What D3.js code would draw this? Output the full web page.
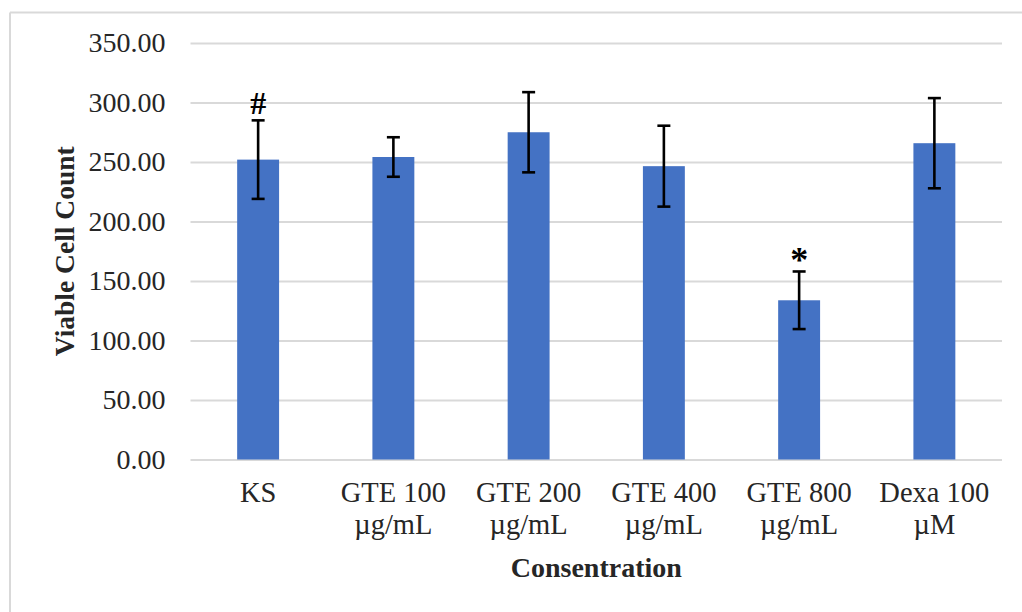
<!DOCTYPE html>
<html>
<head>
<meta charset="utf-8">
<script src="https://cdn.jsdelivr.net/npm/d3@7"></script>
<style>
  html, body { margin: 0; padding: 0; background: #fff; }
  svg { display: block; }
  text { font-family: "Liberation Serif", "DejaVu Serif", serif; fill: #262626; }
</style>
</head>
<body>
<svg id="chart" width="1022" height="612"></svg>
<script>
// Viable cell count per treatment group (mean ± error)
const categories = [
  ["KS"],
  ["GTE 100", "µg/mL"],
  ["GTE 200", "µg/mL"],
  ["GTE 400", "µg/mL"],
  ["GTE 800", "µg/mL"],
  ["Dexa 100", "µM"]
];
const means  = [252.0, 254.2, 275.0, 246.5, 133.8, 265.8];
const errors = [33.0, 16.6, 33.7, 34.0, 24.2, 37.9];
const marks  = ["#", "", "", "", "*", ""];
const yTicks = [0, 50, 100, 150, 200, 250, 300, 350];

const svg = d3.select("#chart");
const W = 1022, H = 612;
const plot = { left: 190.5, right: 1002, top: 43, bottom: 459.5 };

const keys = categories.map((c, i) => i);
const x = d3.scaleBand()
  .domain(keys)
  .range([plot.left, plot.right])
  .paddingInner(0.69)
  .paddingOuter(0.345);

const y = d3.scaleLinear()
  .domain([0, 350])
  .range([plot.bottom, plot.top]);

// Frame lines (top and left)
svg.append("line")
  .attr("x1", 10).attr("x2", W).attr("y1", 12.5).attr("y2", 12.5)
  .attr("stroke", "#d9d9d9").attr("stroke-width", 2);
svg.append("line")
  .attr("x1", 10).attr("x2", 10).attr("y1", 12.5).attr("y2", H)
  .attr("stroke", "#d9d9d9").attr("stroke-width", 2);

// Horizontal gridlines and y tick labels
const yAxis = d3.axisLeft(y)
  .tickValues(yTicks)
  .tickSize(-(plot.right - plot.left))
  .tickPadding(25)
  .tickFormat(d3.format(".2f"));

const gy = svg.append("g")
  .attr("transform", `translate(${plot.left},0)`)
  .call(yAxis);
gy.select(".domain").remove();
gy.selectAll(".tick line")
  .attr("stroke", "#d9d9d9").attr("stroke-width", 2);
gy.selectAll(".tick text")
  .attr("font-size", 28)
  .attr("fill", "#262626")
  .attr("font-family", "Liberation Serif, serif");

// Bars
svg.append("g").selectAll("rect")
  .data(keys)
  .join("rect")
  .attr("x", i => x(i))
  .attr("width", x.bandwidth())
  .attr("y", i => y(means[i]))
  .attr("height", i => y(0) - y(means[i]))
  .attr("fill", "#4472c4");

// Error bars
const eb = svg.append("g").attr("stroke", "#000").attr("stroke-width", 2.6);
keys.forEach(i => {
  const cx = x(i) + x.bandwidth() / 2;
  const hi = y(means[i] + errors[i]);
  const lo = y(means[i] - errors[i]);
  eb.append("line").attr("x1", cx).attr("x2", cx).attr("y1", hi).attr("y2", lo);
  eb.append("line").attr("x1", cx - 6.5).attr("x2", cx + 6.5).attr("y1", hi).attr("y2", hi);
  eb.append("line").attr("x1", cx - 6.5).attr("x2", cx + 6.5).attr("y1", lo).attr("y2", lo);
});

// Significance marks above the error bars
svg.append("g").selectAll("text")
  .data(keys.filter(i => marks[i]))
  .join("text")
  .attr("x", i => x(i) + x.bandwidth() / 2)
  .attr("y", i => y(means[i] + errors[i]) - (marks[i] === "*" ? -1 : 6))
  .attr("text-anchor", "middle")
  .attr("font-size", i => marks[i] === "*" ? 36 : 32)
  .attr("font-weight", "bold")
  .style("fill", "#000")
  .text(i => marks[i]);

// Category labels (two lines)
const xl = svg.append("g");
keys.forEach(i => {
  const t = xl.append("text")
    .attr("x", x(i) + x.bandwidth() / 2)
    .attr("y", 502)
    .attr("text-anchor", "middle")
    .attr("font-size", 28.5);
  categories[i].forEach((line, k) => {
    t.append("tspan")
      .attr("x", x(i) + x.bandwidth() / 2)
      .attr("dy", k === 0 ? 0 : 32)
      .text(line);
  });
});

// Axis titles
svg.append("text")
  .attr("x", (plot.left + plot.right) / 2)
  .attr("y", 577)
  .attr("text-anchor", "middle")
  .attr("font-size", 28)
  .attr("font-weight", "bold")
  .text("Consentration");

svg.append("text")
  .attr("transform", `translate(74, ${(plot.top + plot.bottom) / 2}) rotate(-90)`)
  .attr("text-anchor", "middle")
  .attr("font-size", 27.5)
  .attr("font-weight", "bold")
  .text("Viable Cell Count");
</script>
</body>
</html>
